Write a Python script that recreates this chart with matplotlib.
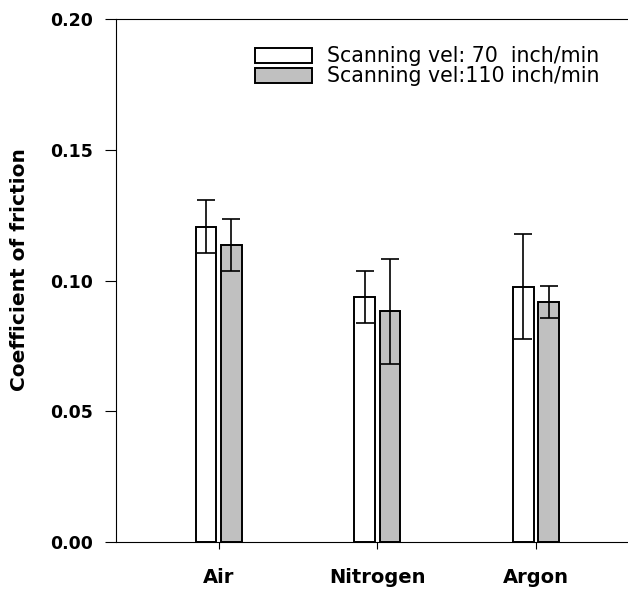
import matplotlib
matplotlib.use("Agg")
import matplotlib.pyplot as plt
import numpy as np

categories = ["Air", "Nitrogen", "Argon"]
series_names = ["Scanning vel: 70  inch/min", "Scanning vel:110 inch/min"]
vel70 = [0.1206, 0.0938, 0.0976]
vel70_err = [0.0100, 0.0100, 0.0200]
vel110 = [0.1135, 0.0882, 0.0918]
vel110_err = [0.0100, 0.0200, 0.0060]
yticks = [0.00, 0.05, 0.10, 0.15, 0.20]

plt.rcParams['font.family'] = ['DejaVu Sans']

fig = plt.figure(figsize=(6.28, 5.90), dpi=100)
ax = fig.add_axes([116 / 628, 1 - 542 / 590, 1.05 - 116 / 628, (542 - 19) / 590])

x = np.arange(len(categories))
off = 0.08
w = 0.13
ax.bar(x - off, vel70, width=w, color="white", edgecolor="black", linewidth=1.4,
       label=series_names[0], zorder=2)
ax.bar(x + off, vel110, width=w, color="#c0c0c0", edgecolor="black", linewidth=1.4,
       label=series_names[1], zorder=2)
ax.errorbar(x - off, vel70, yerr=vel70_err, fmt="none", ecolor="black",
            elinewidth=1.2, capsize=6.2, capthick=1.2, zorder=3)
ax.errorbar(x + off, vel110, yerr=vel110_err, fmt="none", ecolor="black",
            elinewidth=1.2, capsize=6.2, capthick=1.2, zorder=3)

ax.set_xlim(-0.6476, 2.777)
ax.set_ylim(0, 0.20)
ax.set_yticks(yticks)
ax.set_yticklabels([f"{v:.2f}" for v in yticks], fontsize=12.5, fontweight="bold")
ax.set_xticks(x)
ax.set_xticklabels(categories, fontsize=14, fontweight="bold")
ax.tick_params(axis="y", direction="out", length=7.9, width=0.8, pad=8.4)
ax.tick_params(axis="x", direction="out", length=5, width=0.8, pad=14)
for s in ["left", "bottom", "top"]:
    ax.spines[s].set_linewidth(0.8)
ax.spines["right"].set_visible(False)

ax.set_ylabel("Coefficient of friction", fontsize=14.5, fontweight="bold")
ax.yaxis.set_label_coords(-(116 - 29) / (ax.get_position().width * 628), 0.52)

leg = fig.legend(loc="upper left", bbox_to_anchor=(255 / 628, 1 - 46.5 / 590),
                 frameon=False, fontsize=14.8, borderpad=0, borderaxespad=0,
                 handlelength=2.78, handleheight=0.7, handletextpad=0.7,
                 labelspacing=0.0)

fig.savefig("out.png", dpi=100)
